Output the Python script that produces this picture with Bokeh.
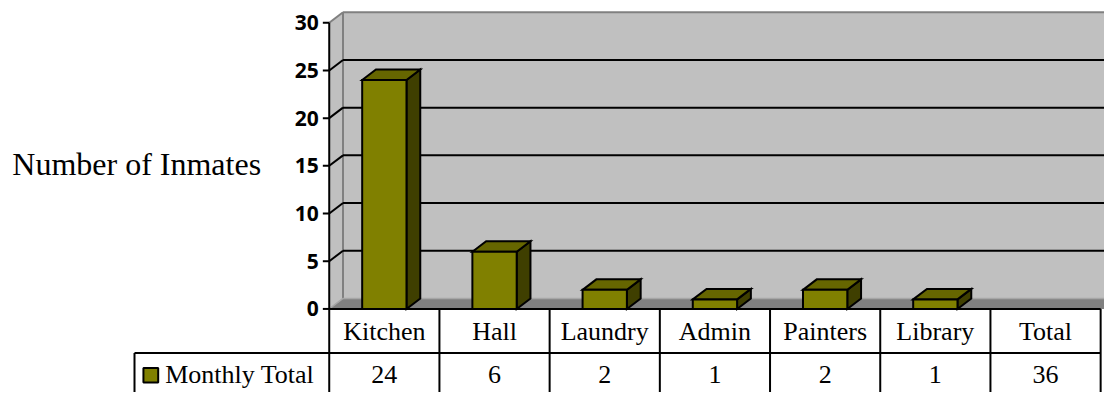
from bokeh.plotting import figure
from bokeh.models import Range1d
from bokeh.embed import file_html
from bokeh.resources import INLINE
from bokeh.core.properties import value

# ---- data ----
categories = ["Kitchen", "Hall", "Laundry", "Admin", "Painters", "Library", "Total"]
monthly_total = [24, 6, 2, 1, 2, 1, 36]
y_ticks = [0, 5, 10, 15, 20, 25, 30]
series_name = "Monthly Total"
axis_title = "Number of Inmates"

# ---- geometry (data units) ----
N = len(categories)
YMAX = y_ticks[-1]
DX = 0.125      # 3D depth offset along x (category units)
DY = 1.1        # 3D depth offset along y (value units)
HALF = 0.201    # half bar width
ROW1 = -4.632   # table row separator
BOTTOM = -12.0
LEG_LEFT = -1.767
ROW1_TXT = -2.32
ROW2_TXT = -6.90

FRONT = "#808000"
TOP = "#666600"
SIDE = "#3f3f00"
WALL = "#c0c0c0"
FLOOR = "#808080"
EDGE = "#808080"
SERIF = value("Liberation Serif")

p = figure(width=1104, height=392,
           x_range=Range1d(-2.983, 7.035), y_range=Range1d(-8.76, 32.33),
           output_backend="svg", toolbar_location=None,
           x_axis_type=None, y_axis_type=None, min_border=0,
           outline_line_color=None, background_fill_color="white",
           border_fill_color="white")

# walls and floor
p.quad(left=DX, right=N + 1, bottom=DY, top=YMAX + DY, fill_color=WALL, line_color=None)
p.patch([0, DX, DX, 0], [0, DY, YMAX + DY, YMAX], fill_color=WALL, line_color=None)
p.patch([0, DX, N + 1, N + 1, N], [0, DY, DY, 0, 0], fill_color=FLOOR, line_color=None)

# wall edges
p.segment(x0=[DX, 0, DX], y0=[DY, YMAX, YMAX + DY], x1=[DX, DX, N + 1], y1=[YMAX + DY, YMAX + DY, YMAX + DY],
          line_color=EDGE, line_width=2)
p.segment(x0=[0, DX], y0=[0, DY], x1=[DX, N + 1], y1=[DY, DY], line_color="#a6a6a6", line_width=1.5)

# gridlines (back wall + side wall diagonals)
grid_vals = [t for t in y_ticks if 0 < t < YMAX]
p.segment(x0=[DX] * len(grid_vals), y0=[t + DY for t in grid_vals],
          x1=[N + 1] * len(grid_vals), y1=[t + DY for t in grid_vals],
          line_color="black", line_width=2)
p.segment(x0=[0] * len(grid_vals), y0=grid_vals, x1=[DX] * len(grid_vals), y1=[t + DY for t in grid_vals],
          line_color="black", line_width=2)

# axis line and ticks
p.segment(x0=[0], y0=[0], x1=[0], y1=[YMAX], line_color="black", line_width=2)
p.segment(x0=[-0.058] * len(y_ticks), y0=y_ticks, x1=[0] * len(y_ticks), y1=y_ticks,
          line_color="black", line_width=2)
p.text(x=[-0.094] * len(y_ticks), y=y_ticks, text=[str(t) for t in y_ticks],
       text_align="right", text_baseline="middle", text_font=value("Open Sans"),
       text_font_style="bold", text_font_size="21px", text_color="black")

# bars (3D)
side_xs, side_ys, top_xs, top_ys = [], [], [], []
fl, fr, ft = [], [], []
for i, (c, v) in enumerate(zip(categories, monthly_total)):
    if c == "Total":
        continue
    cx = i + 0.5
    x0, x1 = cx - HALF, cx + HALF
    side_xs.append([x1, x1 + DX, x1 + DX, x1])
    side_ys.append([0, DY, v + DY, v])
    top_xs.append([x0, x0 + DX, x1 + DX, x1])
    top_ys.append([v, v + DY, v + DY, v])
    fl.append(x0); fr.append(x1); ft.append(v)
p.patches(side_xs, side_ys, fill_color=SIDE, line_color="black", line_width=2, line_join="miter")
p.patches(top_xs, top_ys, fill_color=TOP, line_color="black", line_width=2, line_join="miter")
p.quad(left=fl, right=fr, bottom=[0] * len(fl), top=ft, fill_color=FRONT, line_color="black",
       line_width=2, line_join="miter")

# data table
p.segment(x0=[0, LEG_LEFT], y0=[0, ROW1], x1=[N, N], y1=[0, ROW1], line_color="black", line_width=2)
p.segment(x0=list(range(N + 1)), y0=[0] * (N + 1), x1=list(range(N + 1)), y1=[BOTTOM] * (N + 1),
          line_color="black", line_width=2)
p.segment(x0=[LEG_LEFT], y0=[ROW1], x1=[LEG_LEFT], y1=[BOTTOM], line_color="black", line_width=2)

p.text(x=[i + 0.5 for i in range(N)], y=[ROW1_TXT] * N, text=categories,
       text_align="center", text_baseline="middle", text_font=SERIF,
       text_font_size="26px", text_color="black")
p.text(x=[i + 0.5 for i in range(N)], y=[ROW2_TXT] * N, text=[str(v) for v in monthly_total],
       text_align="center", text_baseline="middle", text_font=SERIF,
       text_font_size="26px", text_color="black")

# legend key in table
p.quad(left=[-1.686], right=[-1.552], bottom=[-7.704], top=[-6.194], fill_color=FRONT,
       line_color="black", line_width=2)
p.text(x=[-1.489], y=[ROW2_TXT], text=[series_name], text_align="left", text_baseline="middle",
       text_font=SERIF, text_font_size="26px", text_color="black")

# axis title
p.text(x=[-2.876], y=[15.22], text=[axis_title], text_align="left", text_baseline="middle",
       text_font=SERIF, text_font_size="32px", text_color="black")

open("out.html", "w").write(file_html(p, INLINE))
